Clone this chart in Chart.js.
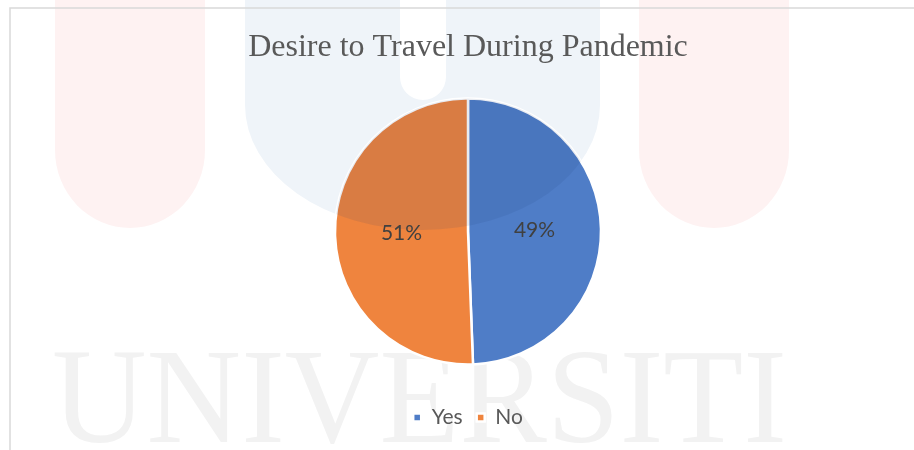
<!DOCTYPE html>
<html>
<head>
<meta charset="utf-8">
<script src="https://cdn.jsdelivr.net/npm/chart.js@4/dist/chart.umd.min.js"></script>
<style>
  html, body { margin: 0; padding: 0; background: #fff; }
  #wrap { width: 914px; height: 450px; position: relative; }
</style>
</head>
<body>
<div id="wrap"><canvas id="myPieChart"></canvas></div>
<script>
// data
var labels = ["Yes", "No"];
var values = [49.4, 50.6];
var colors = ["#4F7DC7", "#EF843E"];
var chartTitle = "Desire to Travel During Pandemic";

// logo shapes of the page watermark
function pinkBar(ctx, cx){
    ctx.beginPath();
    ctx.moveTo(cx - 75, -10);
    ctx.lineTo(cx - 75, 150);
    ctx.ellipse(cx, 150, 75, 78, 0, Math.PI, 0, true);
    ctx.lineTo(cx + 75, -10);
    ctx.closePath();
}
function blueU(ctx){
    ctx.beginPath();
    ctx.moveTo(245, -10);
    ctx.lineTo(245, 105);
    ctx.ellipse(422.5, 105, 177.5, 125, 0, Math.PI, 0, true);
    ctx.lineTo(600, -10);
    ctx.lineTo(446, -10);
    ctx.lineTo(446, 77);
    ctx.arc(423, 77, 23, 0, Math.PI, false);
    ctx.lineTo(400, -10);
    ctx.closePath();
}

// faint page background: watermark + frame
var pageBack = {
    id: 'pageBack',
    beforeDraw: function(chart){
        var ctx = chart.ctx;
        ctx.save();
        ctx.fillStyle = '#FEF2F2';
        pinkBar(ctx, 130);
        ctx.fill();
        pinkBar(ctx, 714);
        ctx.fill();
        ctx.fillStyle = '#EFF4F9';
        blueU(ctx);
        ctx.fill();
        ctx.fillStyle = '#F2F2F2';
        ctx.font = '136px "Liberation Serif"';
        ctx.textBaseline = 'alphabetic';
        var w = ctx.measureText('UNIVERSITI').width;
        ctx.translate(52, 442);
        ctx.scale(735 / w, 1);
        ctx.fillText('UNIVERSITI', 0, 0);
        ctx.restore();

        ctx.save();
        ctx.strokeStyle = '#D9D9D9';
        ctx.lineWidth = 1.5;
        ctx.beginPath();
        ctx.moveTo(10, 460);
        ctx.lineTo(10, 8);
        ctx.lineTo(920, 8);
        ctx.stroke();
        ctx.restore();
    }
};

// watermark shows through the slices a bit darker
var pieShade = {
    id: 'pieShade',
    afterDatasetsDraw: function(chart){
        var ctx = chart.ctx;
        var arc = chart.getDatasetMeta(0).data[0];
        ctx.save();
        ctx.beginPath();
        ctx.arc(arc.x, arc.y, arc.outerRadius, 0, Math.PI * 2);
        ctx.clip();
        ctx.fillStyle = 'rgba(30,60,120,0.1)';
        blueU(ctx);
        ctx.fill();
        ctx.restore();
    }
};

// percent labels on each slice
var sliceLabels = {
    id: 'sliceLabels',
    afterDatasetsDraw: function(chart){
        var ctx = chart.ctx;
        var meta = chart.getDatasetMeta(0);
        var total = values.reduce(function(a, b){ return a + b; }, 0);
        ctx.save();
        ctx.font = '21px Lato';
        ctx.fillStyle = '#404040';
        ctx.textAlign = 'center';
        ctx.textBaseline = 'middle';
        meta.data.forEach(function(arc, i){
            var p = arc.tooltipPosition();
            ctx.fillText(Math.round(values[i] / total * 100) + '%', p.x, p.y);
        });
        ctx.restore();
    }
};

var ctx = document.getElementById("myPieChart");
var myPieChart = new Chart(ctx, {
    type: 'pie',
    data: {
        labels: labels,
        datasets: [{
            backgroundColor: colors,
            borderColor: '#ffffff',
            borderWidth: 2.5,
            data: values
        }]
    },
    options: {
        responsive: true,
        maintainAspectRatio: false,
        animation: false,
        radius: 133,
        layout: { padding: { left: 22, top: 0, right: 0, bottom: 12 } },
        plugins: {
            title: {
                display: true,
                text: chartTitle,
                color: '#595959',
                font: { family: '"Liberation Serif"', size: 32, weight: 'normal', lineHeight: 1.2 },
                padding: { top: 28, bottom: 3.6 }
            },
            legend: {
                position: 'bottom',
                labels: {
                    boxWidth: 8,
                    boxHeight: 8,
                    padding: 14,
                    color: '#595959',
                    font: { family: 'Lato', size: 21 }
                }
            },
            tooltip: { enabled: false }
        }
    },
    plugins: [pageBack, pieShade, sliceLabels]
});
</script>
</body>
</html>
